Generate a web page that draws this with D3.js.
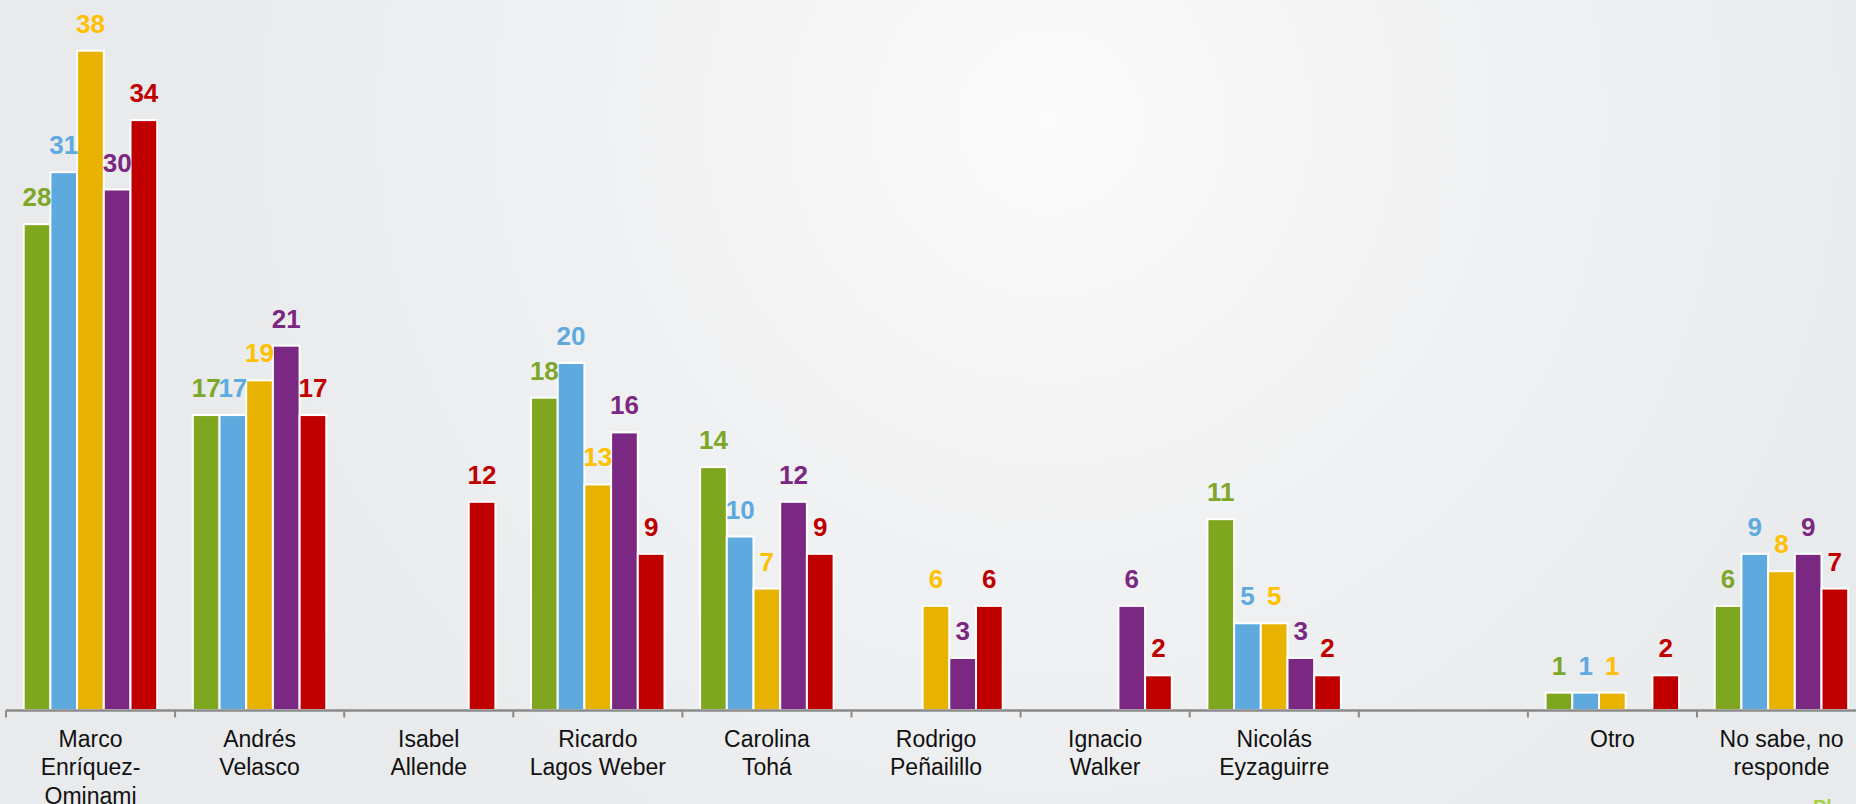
<!DOCTYPE html>
<html>
<head>
<meta charset="utf-8">
<script src="https://cdn.jsdelivr.net/npm/d3@7/dist/d3.min.js"></script>
<style>
html,body{margin:0;padding:0;overflow:hidden;}
svg{display:block;}
</style>
</head>
<body>
<svg id="chart" width="1856" height="804"></svg>
<script>
const categories = ["Marco Enríquez-Ominami","Andrés Velasco","Isabel Allende","Ricardo Lagos Weber","Carolina Tohá","Rodrigo Peñailillo","Ignacio Walker","Nicolás Eyzaguirre"," ","Otro","No sabe, no responde"];
const categoryLines = [["Marco","Enríquez-","Ominami"],["Andrés","Velasco"],["Isabel","Allende"],["Ricardo","Lagos Weber"],["Carolina","Tohá"],["Rodrigo","Peñailillo"],["Ignacio","Walker"],["Nicolás","Eyzaguirre"],[],["Otro"],["No sabe, no","responde"]];
const seriesNames = ["Serie 1","Serie 2","Serie 3","Serie 4","Serie 5"];
const serie1 = [28,17,null,18,14,null,null,11,null,1,6];
const serie2 = [31,17,null,20,10,null,null,5,null,1,9];
const serie3 = [38,19,null,13,7,6,null,5,null,1,8];
const serie4 = [30,21,null,16,12,3,6,3,null,null,9];
const serie5 = [34,17,12,9,9,6,2,2,null,2,7];
const barColors = ["#7ea61f","#5eaadf","#e8b200","#7b2883","#c00000"];
const labelColors = ["#7ea72a","#5eaadf","#ffc000","#7b2883","#c00000"];

const allSeries = [serie1,serie2,serie3,serie4,serie5];
const svg = d3.select("#chart");
const W = 1856, H = 804;

// background
const defs = svg.append("defs");
const rg = defs.append("radialGradient").attr("id","bg").attr("gradientUnits","userSpaceOnUse")
  .attr("cx",1050).attr("cy",120).attr("r",900);
rg.append("stop").attr("offset","0%").attr("stop-color","#fbfbfb");
rg.append("stop").attr("offset","45%").attr("stop-color","#f1f2f3");
rg.append("stop").attr("offset","100%").attr("stop-color","#e9eaec");
svg.append("rect").attr("width",W).attr("height",H).attr("fill","url(#bg)");

const x0 = 6, band = 169.1;
const x = d3.scaleBand().domain(categories).range([x0, x0 + band*categories.length]).paddingInner(0).paddingOuter(0);
const xs = d3.scaleBand().domain(seriesNames).range([17.7, 17.7 + 26.7*5]).padding(0);
const y = d3.scaleLinear().domain([0,40]).range([710, 710 - 40*17.35]);

const data = [];
categories.forEach((c,i)=>{
  seriesNames.forEach((s,j)=>{
    const v = allSeries[j][i];
    if (v !== null && v !== undefined) data.push({c, s, j, v});
  });
});

svg.append("g").selectAll("rect").data(data).join("rect")
  .attr("x", d => x(d.c) + xs(d.s))
  .attr("y", d => y(d.v))
  .attr("width", xs.bandwidth())
  .attr("height", d => y(0) - y(d.v))
  .attr("fill", d => barColors[d.j])
  .attr("stroke", "#ffffff")
  .attr("stroke-width", 2);

svg.append("g").selectAll("text").data(data).join("text")
  .attr("x", d => x(d.c) + xs(d.s) + xs.bandwidth()/2)
  .attr("y", d => y(d.v) - 18)
  .attr("text-anchor","middle")
  .attr("font-family","Liberation Sans, Arial, sans-serif")
  .attr("font-weight","bold")
  .attr("font-size", 26)
  .attr("fill", d => labelColors[d.j])
  .text(d => d.v);

// axis
const axis = d3.axisBottom(x).tickSize(0).tickSizeOuter(0).tickFormat("");
const gAxis = svg.append("g").attr("transform","translate(0,710.5)").call(axis);
gAxis.select(".domain").attr("stroke","#8a8a8a").attr("stroke-width",2.5)
  .attr("d", `M${x0},0H${W}`);
gAxis.selectAll(".tick").remove();
const boundaries = categories.map(c => x(c));
gAxis.selectAll("line.bt").data(boundaries).join("line").attr("class","bt")
  .attr("x1", d=>d).attr("x2", d=>d).attr("y1",0).attr("y2",7)
  .attr("stroke","#8a8a8a").attr("stroke-width",2);

const lbl = svg.append("g").selectAll("text").data(categories).join("text")
  .attr("x", d => x(d) + x.bandwidth()/2)
  .attr("y", 747)
  .attr("text-anchor","middle")
  .attr("font-family","Liberation Sans, Arial, sans-serif")
  .attr("font-size", 23)
  .attr("fill","#111");
lbl.each(function(d,i){
  const t = d3.select(this);
  categoryLines[i].forEach((ln,k)=>{
    t.append("tspan").attr("x", x(d) + x.bandwidth()/2).attr("dy", k===0?0:28.3).text(ln);
  });
});

// partially visible logo text at bottom right
svg.append("text").attr("x",1813).attr("y",814)
  .attr("font-family","Liberation Sans, Arial, sans-serif").attr("font-weight","bold")
  .attr("font-size",20).attr("fill","#a8d23a").text("Pl");
</script>
</body>
</html>
